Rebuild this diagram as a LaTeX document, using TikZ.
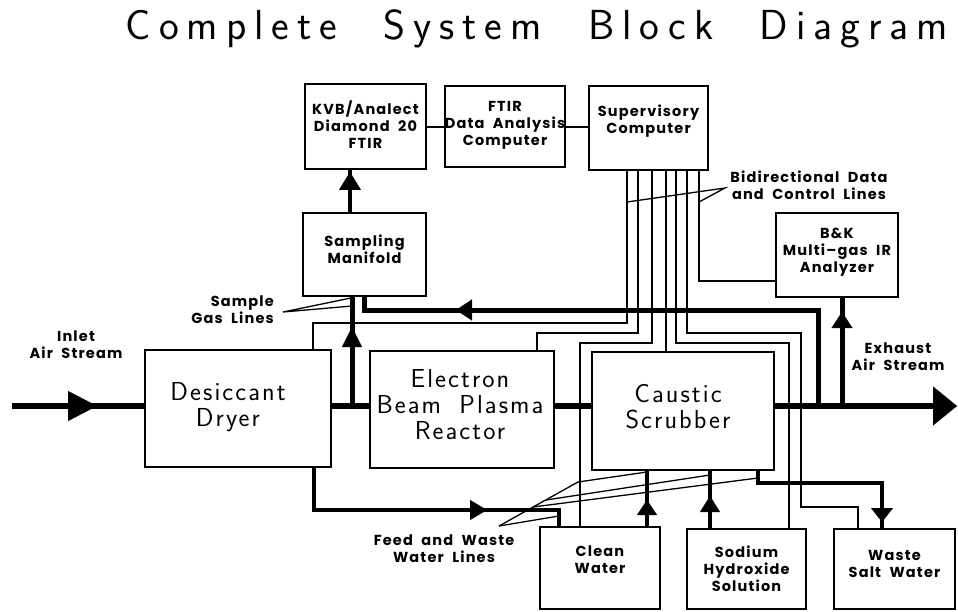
\documentclass[tikz,border=0pt]{standalone}
\usepackage{fontspec}
\usetikzlibrary{arrows.meta,decorations.markings}
\newfontfamily\thinfont{lmsans17-regular.otf}[LetterSpace=8,WordSpace=1.8]
\newfontfamily\titlefont{lmsans17-regular.otf}[LetterSpace=19,WordSpace=2.2]
\newfontfamily\lblfont{Poppins}[LetterSpace=8,WordSpace=2.0]
\begin{document}
\begin{tikzpicture}[x=1pt,y=-1pt,
  box/.style 2 args={draw,line width=1.4pt,minimum width=#1pt,minimum height=#2pt,inner sep=0pt,outer sep=0pt},
  lbl/.style={font=\lblfont\bfseries\fontsize{14.5}{17}\selectfont,align=center,inner sep=0pt},
  big/.style={font=\thinfont\fontsize{26}{26}\selectfont,align=center,inner sep=0pt},
  flow/.style={line width=6pt},
  flowb/.style={line width=5pt},
  water/.style={line width=3.5pt},
  data/.style={line width=1.3pt},
  ah/.style n args={3}{postaction={decorate,decoration={markings,mark=at position #1pt with {\arrow{Triangle[width=#2pt,length=#3pt,line width=0.1pt]}}}}}
]
\fill[white] (0,0) rectangle (958,612);
\useasboundingbox (0,0) rectangle (958,612);

% title
\node[font=\titlefont\fontsize{42}{44}\selectfont,anchor=base,inner sep=0pt] (title) at (537,40) {Complete System Block Diagram};

% boxes
\node[box={121}{85}] (kvb) at (365.5,126.5) {};
\node[box={120}{81}] (ftir) at (505,126.5) {};
\node[box={119}{84}] (sup) at (648.5,128) {};
\node[box={123}{83}] (sm) at (364.5,254.5) {};
\node[box={122}{84}] (bk) at (837,255) {};
\node[box={186}{117}] (dd) at (238,408.5) {};
\node[box={184}{117}] (eb) at (462,409.5) {};
\node[box={182}{118}] (cs) at (683,411) {};
\node[box={120}{82}] (cw) at (600,568) {};
\node[box={119}{80}] (na) at (746.5,569) {};
\node[box={121}{80}] (ws) at (894.5,569) {};

% box texts
\node[lbl] (tkvb) at (365.5,125) {KVB/Analect\\Diamond 20\\FTIR};
\node[lbl] (tftir) at (505,125) {FTIR\\Data Analysis\\Computer};
\node[lbl] (tsup) at (648.5,121) {Supervisory\\Computer};
\node[lbl] (tsm) at (364.5,249) {Sampling\\Manifold};
\node[lbl] (tbk) at (837,252) {B\&K\\Multi–gas IR\\Analyzer};
\node[lbl] (tcw) at (600,560) {Clean\\Water};
\node[lbl] (tna) at (746.5,569) {Sodium\\Hydroxide\\Solution};
\node[lbl] (tws) at (894.5,564) {Waste\\Salt Water};
\node[big] (tdd) at (228,407) {Desiccant\\Dryer};
\node[big] (teb) at (460,405) {Electron\\Beam Plasma\\Reactor};
\node[big] (tcs) at (678,406.5) {Caustic\\Scrubber};

% free labels
\node[lbl] (tin) at (76,345) {Inlet\\Air Stream};
\node[lbl,align=right,anchor=east] (tsg) at (274,310) {Sample\\Gas Lines};
\node[lbl] (tbi) at (809,185) {Bidirectional Data\\and Control Lines};
\node[lbl] (tex) at (898,357) {Exhaust\\Air Stream};
\node[lbl] (tfw) at (444,549) {Feed and Waste\\Water Lines};

% main flow
\coordinate (in) at (12,406);
\coordinate (out) at (957,406);
\coordinate (j1) at (352,406);
\coordinate (j2) at (818,406);
\coordinate (j3) at (842,406);
\draw[flow,ah={85}{30}{29}] (in) -- (in -| dd.west);
\draw[flow] (dd.east |- in) -- (eb.west |- in);
\draw[flow] (eb.east |- in) -- (cs.west |- in);
\draw[flow,-{Triangle[width=39pt,length=24pt,line width=0.1pt]}] (cs.east |- in) -- (out);

% sample lines
\draw[flowb,ah={79}{20}{20}] (j1) -- (j1 |- sm.south);
\coordinate (r1) at (818,310);
\coordinate (r2) at (364,310);
\draw[flowb,ah={458}{21}{16}] (j2) -- (r1) -- (r2) -- (r2 |- sm.south);
\draw[flowb,ah={94}{21}{16}] (j3) -- (j3 |- bk.south);
\draw[line width=4pt,ah={41}{22}{18}] (350,0 |- sm.north) -- (350,0 |- kvb.south);

% water lines
\draw[water,ah={216}{20}{17}] (314,0 |- dd.south) -- (314,510) -- (559,510) -- (559,0 |- cw.north);
\draw[water,ah={27}{20}{15}] (647,0 |- cw.north) -- (647,0 |- cs.south);
\draw[water,ah={33}{20}{16}] (710,0 |- na.north) -- (710,0 |- cs.south);
\draw[water,ah={176}{22}{14}] (758,0 |- cs.south) -- (758,483) -- (882,483) -- (882,0 |- ws.north);

% data lines
\draw[data] (kvb.east |- 0,127) -- (ftir.west |- 0,127);
\draw[data] (ftir.east |- 0,127) -- (sup.west |- 0,127);
\draw[data] (627,0 |- sup.south) -- (627,323) -- (313,323) -- (313,0 |- dd.north);
\draw[data] (638,0 |- sup.south) -- (638,333) -- (537,333) -- (537,0 |- eb.north);
\draw[data] (652,0 |- sup.south) -- (652,343) -- (580,343) -- (580,0 |- cw.north);
\draw[data] (666,0 |- sup.south) -- (666,0 |- cs.north);
\draw[data] (676,0 |- sup.south) -- (676,343) -- (789,343) -- (789,0 |- na.north);
\draw[data] (687,0 |- sup.south) -- (687,333) -- (801,333) -- (801,507) -- (858,507) -- (858,0 |- ws.north);
\draw[data] (699,0 |- sup.south) -- (699,281) -- (bk.west |- 0,281);

% callouts
\coordinate (sga) at (283,312);
\draw[data] (351,298) -- (sga) -- (352,306);
\coordinate (bda) at (725,188);
\draw[data] (627,202) -- (bda) -- (699,202);
\coordinate (fwa) at (499,526);
\draw[data] (fwa) -- (578,482) -- (647,472);
\draw[data] (546,500) -- (710,475);
\draw[data] (533,507) -- (758,478);
\draw[data] (fwa) -- (559,516);
\end{tikzpicture}
\end{document}
